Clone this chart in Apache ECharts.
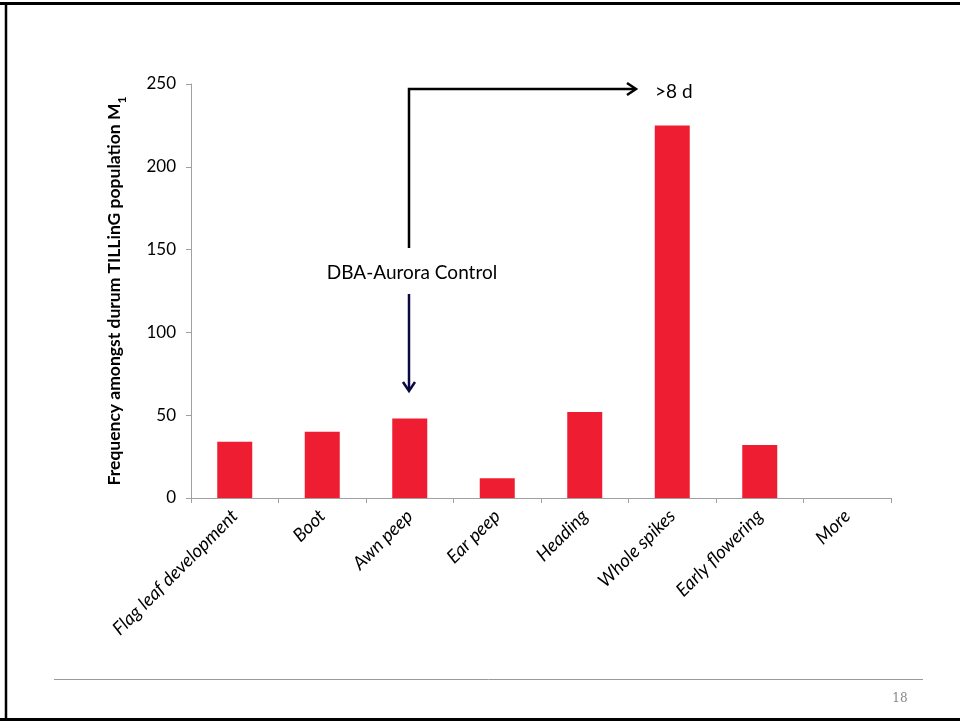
<!DOCTYPE html>
<html><head><meta charset="utf-8">
<script src="https://cdn.jsdelivr.net/npm/echarts@6/dist/echarts.min.js"></script>
<style>html,body{margin:0;padding:0;background:#fff}#c{width:960px;height:721px}</style>
</head><body><div id="c"></div>
<script>
const categories = ["Flag leaf development","Boot","Awn peep","Ear peep","Heading","Whole spikes","Early flowering","More"];
const frequency = [34, 40, 48, 12, 52, 225, 32, 0];
const yTicks = [0, 50, 100, 150, 200, 250];

const chart = echarts.init(document.getElementById('c'));
const font = 'Lato, "Open Sans", sans-serif';
chart.setOption({
  animation: false,
  backgroundColor: '#fff',
  grid: { left: 191, right: 69, top: 84, bottom: 223 },
  xAxis: {
    type: 'category', data: categories,
    axisLine: { lineStyle: { color: '#A0A0A0', width: 1 } },
    axisTick: { show: true, length: 5, lineStyle: { color: '#A0A0A0' } },
    axisLabel: { rotate: 45, interval: 0, fontStyle: 'italic', fontSize: 18.5, color: '#000', fontFamily: font, margin: 15 }
  },
  yAxis: {
    type: 'value', min: yTicks[0], max: yTicks[yTicks.length-1], interval: 50,
    name: '{a|Frequency amongst durum TILLinG population M}{s|1}',
    nameLocation: 'middle', nameGap: 68, nameRotate: 90,
    nameTextStyle: {
      rich: {
        a: { fontSize: 17.5, fontWeight: 'bold', color: '#000', fontFamily: font },
        s: { fontSize: 12, fontWeight: 'bold', color: '#000', fontFamily: font, verticalAlign: 'bottom', padding: [0,0,-5,0] }
      }
    },
    splitLine: { show: false },
    axisLine: { show: true, lineStyle: { color: '#A0A0A0', width: 1 } },
    axisTick: { show: true, length: 5, lineStyle: { color: '#A0A0A0' } },
    axisLabel: { fontSize: 17, color: '#000', fontFamily: font, margin: 15 }
  },
  series: [{
    type: 'bar', data: frequency, barCategoryGap: '60%',
    itemStyle: { color: '#EE1D31' }
  }],
  graphic: [
    // slide frame
    { type: 'line', shape: { x1: 0, y1: 3.5, x2: 960, y2: 3.5 }, style: { stroke: '#000', lineWidth: 3 } },
    { type: 'line', shape: { x1: 6, y1: 2, x2: 6, y2: 721 }, style: { stroke: '#000', lineWidth: 2.5 } },
    { type: 'line', shape: { x1: 0, y1: 719.5, x2: 960, y2: 719.5 }, style: { stroke: '#000', lineWidth: 3 } },
    { type: 'line', shape: { x1: 54, y1: 679.5, x2: 923, y2: 679.5 }, style: { stroke: '#999', lineWidth: 1 } },
    { type: 'text', x: 900, y: 699, style: { text: '18', fontSize: 12, fill: '#888', fontFamily: '"DejaVu Serif", "Liberation Serif", serif', align: 'center', verticalAlign: 'middle' } },
    // black arrow
    { type: 'polyline', shape: { points: [[409, 248], [409, 89], [635, 89]] }, style: { stroke: '#000', lineWidth: 2.5, fill: null } },
    { type: 'polyline', shape: { points: [[627, 83], [636, 89], [627, 95]] }, style: { stroke: '#000', lineWidth: 2.5, fill: null } },
    { type: 'text', x: 655, y: 92, style: { text: '>8 d', fontSize: 19, fill: '#000', fontFamily: font, verticalAlign: 'middle' } },
    // label
    { type: 'text', x: 412, y: 273, style: { text: 'DBA-Aurora Control', fontSize: 19, fill: '#000', fontFamily: font, align: 'center', verticalAlign: 'middle' } },
    // navy arrow
    { type: 'line', shape: { x1: 409, y1: 294, x2: 409, y2: 390 }, style: { stroke: '#0A0A40', lineWidth: 2.5 } },
    { type: 'polyline', shape: { points: [[403, 382], [409, 391], [415, 382]] }, style: { stroke: '#0A0A40', lineWidth: 2.5, fill: null } }
  ]
});
</script></body></html>
